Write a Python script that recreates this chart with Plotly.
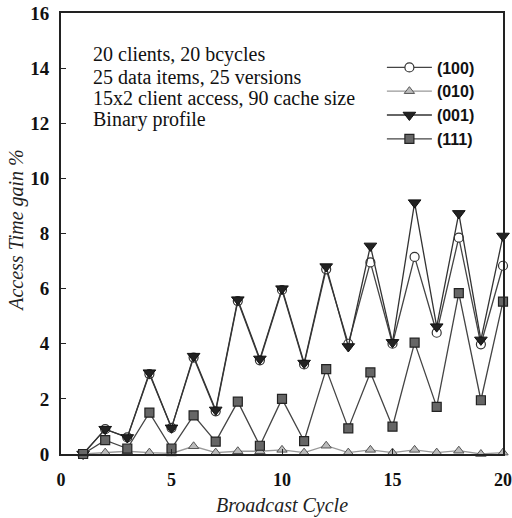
import plotly.graph_objects as go

cycles = list(range(1, 21))
s100 = [0, 0.9, 0.6, 2.9, 0.95, 3.5, 1.55, 5.55, 3.4, 5.95, 3.25, 6.7, 4.0, 6.95, 4.0, 7.15, 4.4, 7.85, 3.98, 6.83]
s010 = [0, 0.05, 0.1, 0.05, 0.02, 0.28, 0.05, 0.1, 0.1, 0.15, 0.05, 0.3, 0.05, 0.15, 0.05, 0.15, 0.05, 0.12, 0.0, 0.05]
s001 = [0, 0.9, 0.6, 2.95, 0.95, 3.55, 1.6, 5.6, 3.45, 6.0, 3.3, 6.8, 3.9, 7.55, 4.05, 9.12, 4.62, 8.73, 4.14, 7.91]
s111 = [0, 0.5, 0.2, 1.5, 0.2, 1.4, 0.45, 1.9, 0.3, 2.0, 0.47, 3.08, 0.93, 2.96, 0.99, 4.04, 1.71, 5.84, 1.95, 5.53]

names = ["(100)", "(010)", "(001)", "(111)"]
x_ticks = [0, 5, 10, 15, 20]
y_ticks = [0, 2, 4, 6, 8, 10, 12, 14, 16]
info_lines = ["20 clients, 20 bcycles", "25 data items, 25 versions",
              "15x2 client access, 90 cache size", "Binary profile"]
x_title = "Broadcast Cycle"
y_title = "Access Time gain %"

fig = go.Figure()
fig.add_trace(go.Scatter(x=cycles, y=s100, name=names[0], mode="lines+markers",
                         line=dict(color="#444", width=1.3),
                         marker=dict(symbol="circle", size=9, color="white", line=dict(color="#333", width=1.2)),
                         cliponaxis=False))
fig.add_trace(go.Scatter(x=cycles, y=s010, name=names[1], mode="lines+markers",
                         line=dict(color="#999", width=1.3),
                         marker=dict(symbol="triangle-up", size=9, color="#bbb", line=dict(color="#555", width=1)),
                         cliponaxis=False))
fig.add_trace(go.Scatter(x=cycles, y=s001, name=names[2], mode="lines+markers",
                         line=dict(color="#333", width=1.3),
                         marker=dict(symbol="triangle-down", size=11, color="#222", line=dict(color="#111", width=1)),
                         cliponaxis=False))
fig.add_trace(go.Scatter(x=cycles, y=s111, name=names[3], mode="lines+markers",
                         line=dict(color="#444", width=1.3),
                         marker=dict(symbol="square", size=9, color="#666", line=dict(color="#222", width=1.2)),
                         cliponaxis=False))

line_y = [0.9048, 0.8549, 0.8073, 0.7574]
for txt, yy in zip(info_lines, line_y):
    fig.add_annotation(xref="paper", yref="paper", x=0.067, y=yy, xanchor="left", yanchor="middle",
                       align="left", showarrow=False, text=txt,
                       font=dict(family="Liberation Serif", size=20, color="#111"))

# axis titles
fig.add_annotation(xref="paper", yref="paper", x=0.5, y=-0.116, xanchor="center", yanchor="middle",
                   showarrow=False, text="<i>" + x_title + "</i>",
                   font=dict(family="Liberation Serif", size=20, color="#222"))
fig.add_annotation(xref="paper", yref="paper", x=-0.1, y=0.508, xanchor="center", yanchor="middle",
                   showarrow=False, textangle=-90, text="<i>" + y_title + "</i>",
                   font=dict(family="Liberation Serif", size=20, color="#222"))

fig.update_layout(
    width=512, height=518,
    margin=dict(l=61, r=9, t=13, b=64),
    paper_bgcolor="white", plot_bgcolor="white",
    showlegend=True,
    legend=dict(x=0.726, y=0.915, xanchor="left", yanchor="top", bgcolor="rgba(0,0,0,0)",
                font=dict(family="Liberation Sans", size=16, color="#111", weight="bold"),
                tracegroupgap=0, itemwidth=45),
    xaxis=dict(range=[0, 20], tickvals=x_ticks, showgrid=False, zeroline=False, automargin=False,
               showline=True, linecolor="#222", linewidth=2, mirror=True,
               ticks="inside", ticklen=5, tickcolor="#222", ticklabeloverflow="allow",
               ticklabelstandoff=8,
               tickfont=dict(family="Liberation Serif", size=18, color="#111", weight="bold")),
    yaxis=dict(range=[0, 16], tickvals=y_ticks, showgrid=False, zeroline=False, automargin=False,
               showline=True, linecolor="#222", linewidth=2, mirror=True,
               ticks="inside", ticklen=5, tickcolor="#222", ticklabeloverflow="allow",
               ticklabelstandoff=6,
               tickfont=dict(family="Liberation Serif", size=19, color="#111", weight="bold")),
)

fig.write_html("out.html")
